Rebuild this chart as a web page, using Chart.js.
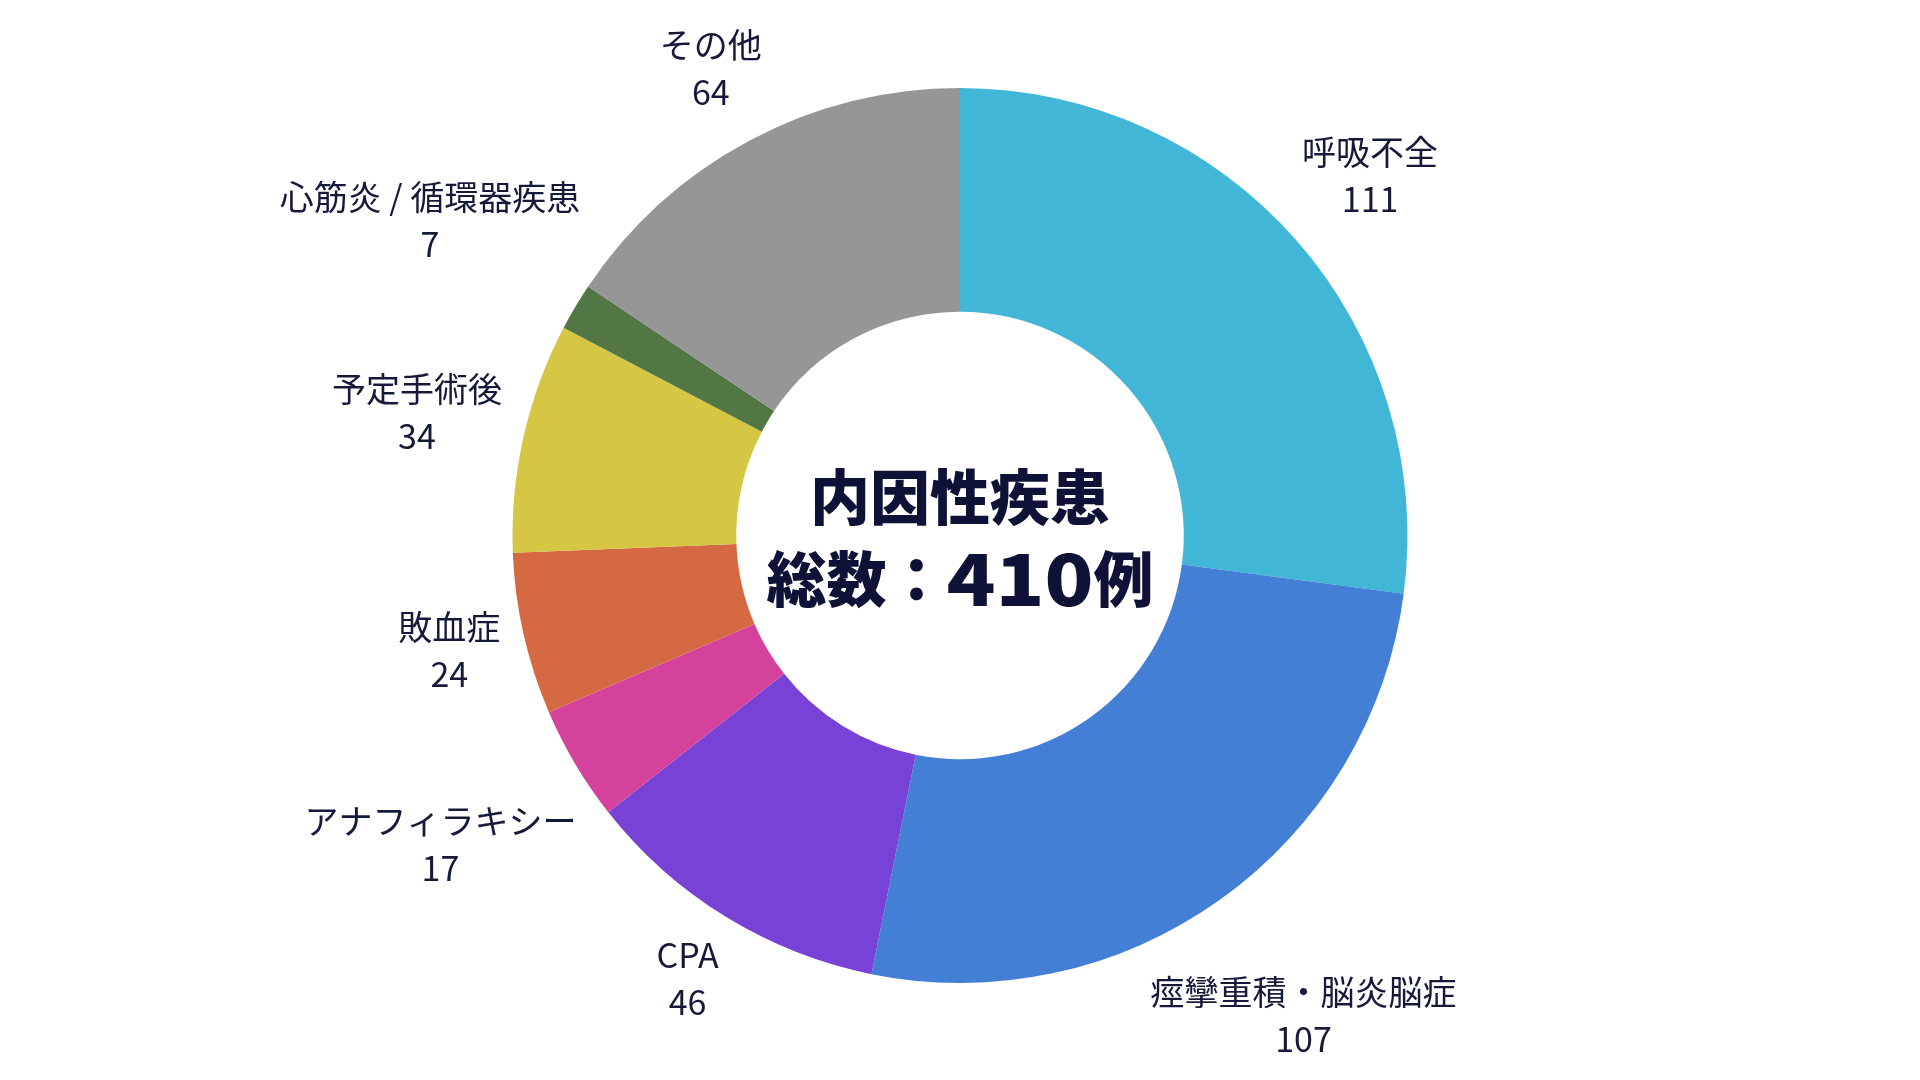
<!DOCTYPE html>
<html lang="ja">
<head>
<meta charset="utf-8">
<title>内因性疾患</title>
<script src="https://cdn.jsdelivr.net/npm/chart.js@4/dist/chart.umd.min.js"></script>
<style>
  html, body { margin: 0; padding: 0; background: #ffffff; }
  #wrap { width: 1920px; height: 1080px; position: relative; }
</style>
</head>
<body>
<div id="wrap"><canvas id="myDoughnut"></canvas></div>
<script>
// カテゴリと症例数（時計回り、上から）
const categories = ['呼吸不全', '痙攣重積・脳炎脳症', 'CPA', 'アナフィラキシー', '敗血症', '予定手術後', '心筋炎 / 循環器疾患', 'その他'];
const caseCounts = [111, 107, 46, 17, 24, 34, 7, 64];
const sliceColors = ['#42B6D6', '#427FD5', '#7742D5', '#D5429C', '#D56A42', '#D5C643', '#527745', '#969696'];
const centerTitle = '内因性疾患';
const centerTotal = ['総数', '：', '410', '例'];

const labelFont = '400 34px "Noto Sans CJK JP", "Noto Sans", sans-serif';
const labelColor = '#161a3a';
const heavyFont = '900 60px "Noto Sans CJK JP", sans-serif';
const digitFont = '900 70px "Noto Sans CJK JP", sans-serif';

// 外側ラベル（名前＋数）と中央の文字を描くプラグイン
const outsideLabels = {
  id: 'outsideLabels',
  afterDatasetsDraw(chart) {
    const ctx = chart.ctx;
    const meta = chart.getDatasetMeta(0);
    const lineH = 47;
    const gap = 16;
    ctx.save();
    ctx.font = labelFont;
    ctx.fillStyle = labelColor;
    ctx.textAlign = 'center';
    ctx.textBaseline = 'middle';
    meta.data.forEach((arc, i) => {
      const p = arc.getProps(['x', 'y', 'startAngle', 'endAngle', 'outerRadius'], true);
      const mid = (p.startAngle + p.endAngle) / 2;
      const dx = Math.cos(mid);
      const dy = Math.sin(mid);
      const lines = [categories[i], String(caseCounts[i])];
      const w = Math.max(...lines.map(t => ctx.measureText(t).width));
      const h = lineH * lines.length;
      const dist = p.outerRadius + gap + Math.abs(dx) * w / 2 + Math.abs(dy) * h / 2;
      const cx = p.x + dx * dist;
      const cy = p.y + dy * dist;
      lines.forEach((t, k) => {
        ctx.fillText(t, cx, cy + (k - (lines.length - 1) / 2) * lineH);
      });
    });

    // 中央の文字
    const c = meta.data[0];
    ctx.fillStyle = '#0e1236';
    ctx.font = heavyFont;
    ctx.fillText(centerTitle, c.x, c.y - 38);

    // 2行目：数字だけ太く広めに
    const digitScale = 1.15;
    const parts = centerTotal.map(t => {
      const isNum = /^[0-9]+$/.test(t);
      ctx.font = isNum ? digitFont : heavyFont;
      const wd = ctx.measureText(t).width * (isNum ? digitScale : 1);
      return { t, isNum, wd };
    });
    const total = parts.reduce((s, q) => s + q.wd, 0);
    let x = c.x - total / 2;
    const y2 = c.y + 44;
    ctx.textAlign = 'left';
    parts.forEach(q => {
      if (q.isNum) {
        ctx.font = digitFont;
        ctx.save();
        ctx.translate(x, y2);
        ctx.scale(digitScale, 1);
        ctx.fillText(q.t, 0, 0);
        ctx.restore();
      } else {
        ctx.font = heavyFont;
        ctx.fillText(q.t, x, y2);
      }
      x += q.wd;
    });
    ctx.restore();
  }
};

const el = document.querySelector('#myDoughnut');
new Chart(el, {
  type: 'doughnut',
  data: {
    labels: categories,
    datasets: [{
      data: caseCounts,
      backgroundColor: sliceColors,
      borderWidth: 0,
    }]
  },
  options: {
    responsive: true,
    maintainAspectRatio: false,
    animation: false,
    cutout: '50%',
    layout: {
      padding: { top: 88, bottom: 97, left: 0, right: 0 }
    },
    plugins: {
      legend: { display: false },
      tooltip: { enabled: false },
    },
  },
  plugins: [outsideLabels]
});
</script>
</body>
</html>
